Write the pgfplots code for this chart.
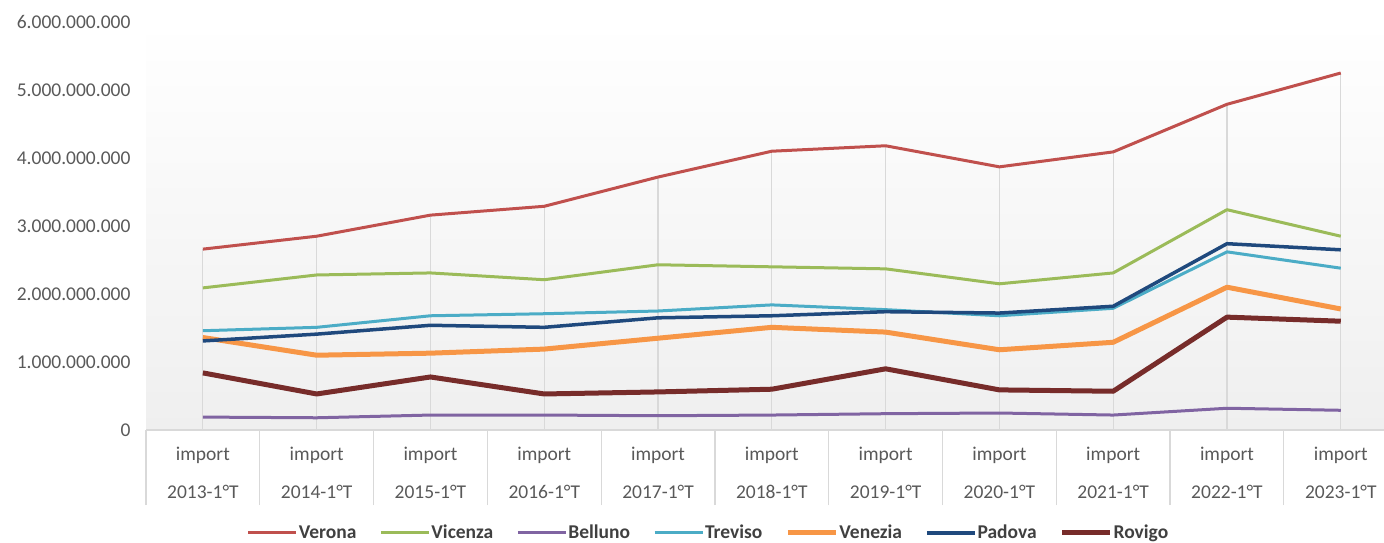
\documentclass[border=0pt]{standalone}
\usepackage{fontspec}
\setmainfont{Carlito}
\usepackage{pgfplots}
\usepackage{pgfplotstable}
\pgfplotsset{compat=1.18}
\definecolor{cVerona}{HTML}{C0504D}
\definecolor{cVicenza}{HTML}{9BBB59}
\definecolor{cBelluno}{HTML}{8064A2}
\definecolor{cTreviso}{HTML}{4BACC6}
\definecolor{cVenezia}{HTML}{F79646}
\definecolor{cPadova}{HTML}{1F497D}
\definecolor{cRovigo}{HTML}{772C2A}
\definecolor{cTick}{HTML}{595959}
\definecolor{cLeg}{HTML}{404040}
\definecolor{cGrid}{HTML}{D9D9D9}
\definecolor{cBg}{HTML}{EFEFEF}
\pgfplotstableread{
x Verona Vicenza Belluno Treviso Venezia Padova Rovigo
0 2660000000 2090000000 190000000 1460000000 1360000000 1310000000 840000000
1 2850000000 2280000000 180000000 1510000000 1100000000 1410000000 530000000
2 3160000000 2310000000 220000000 1680000000 1130000000 1540000000 780000000
3 3290000000 2210000000 220000000 1710000000 1190000000 1510000000 530000000
4 3720000000 2430000000 210000000 1750000000 1350000000 1650000000 560000000
5 4100000000 2400000000 220000000 1840000000 1510000000 1680000000 600000000
6 4180000000 2370000000 240000000 1770000000 1440000000 1740000000 900000000
7 3870000000 2150000000 250000000 1680000000 1180000000 1720000000 590000000
8 4090000000 2310000000 220000000 1790000000 1290000000 1820000000 570000000
9 4790000000 3240000000 320000000 2620000000 2100000000 2740000000 1660000000
10 5250000000 2850000000 290000000 2380000000 1780000000 2650000000 1600000000
}\data
\begin{document}
\begin{tikzpicture}
\path[use as bounding box] (0pt,0pt) rectangle (1384pt,-542pt);
\begin{axis}[
  at={(146pt,-430pt)}, anchor=south west,
  scale only axis, width=1238pt, height=408pt,
  xmin=-0.5, xmax=10.38, ymin=0, ymax=6000000000,
  axis background/.style={shade, top color=white, bottom color=cBg},
  axis x line*=bottom, axis y line*=left,
  x axis line style={-, cGrid, line width=1.2pt},
  y axis line style={draw=none},
  xtick={-0.5,0.5,1.5,2.5,3.5,4.5,5.5,6.5,7.5,8.5,9.5},
  xticklabels={},
  tick align=outside,
  x tick style={cGrid, line width=1.2pt},
  major tick length=75pt,
  ytick={0,1000000000,2000000000,3000000000,4000000000,5000000000,6000000000},
  yticklabels={0,1.000.000.000,2.000.000.000,3.000.000.000,4.000.000.000,5.000.000.000,6.000.000.000},
  scaled y ticks=false,
  y tick style={draw=none},
  yticklabel style={anchor=east, xshift=63pt},
  tick label style={font=\fontsize{19.5}{23}\selectfont, text=cTick},
  extra x ticks={0,1,2,3,4,5,6,7,8,9,10},
  extra x tick labels={import\\2013-1°T,import\\2014-1°T,import\\2015-1°T,import\\2016-1°T,import\\2017-1°T,import\\2018-1°T,import\\2019-1°T,import\\2020-1°T,import\\2021-1°T,import\\2022-1°T,import\\2023-1°T},
  extra x tick style={major tick length=0pt, tick style={draw=none},
    tick label style={align=center, font=\fontsize{19.5}{38}\selectfont, text=cTick, anchor=north, yshift=-14pt}},
  legend style={at={(0.454,-0.252)}, anchor=center, draw=none, fill=none,
    font=\bfseries\fontsize{19.5}{23}\selectfont, text=cLeg,
    /tikz/every even column/.append style={column sep=22pt},
    nodes={inner xsep=1pt}},
  legend columns=7,
  legend image code/.code={\draw[#1] (0pt,0pt) -- (48pt,0pt);},
  line join=round,
]
\addplot[ycomb, draw=cGrid, line width=1.2pt, mark=none, forget plot] table[x=x,y=Verona]{\data};
\addplot[cVerona, line width=3pt, mark=none] table[x=x,y=Verona]{\data};
\addlegendentry{Verona}
\addplot[cVicenza, line width=3pt, mark=none] table[x=x,y=Vicenza]{\data};
\addlegendentry{Vicenza}
\addplot[cBelluno, line width=3pt, mark=none] table[x=x,y=Belluno]{\data};
\addlegendentry{Belluno}
\addplot[cTreviso, line width=3pt, mark=none] table[x=x,y=Treviso]{\data};
\addlegendentry{Treviso}
\addplot[cVenezia, line width=5pt, mark=none] table[x=x,y=Venezia]{\data};
\addlegendentry{Venezia}
\addplot[cPadova, line width=3.5pt, mark=none] table[x=x,y=Padova]{\data};
\addlegendentry{Padova}
\addplot[cRovigo, line width=5pt, mark=none] table[x=x,y=Rovigo]{\data};
\addlegendentry{Rovigo}
\end{axis}
\end{tikzpicture}
\end{document}
